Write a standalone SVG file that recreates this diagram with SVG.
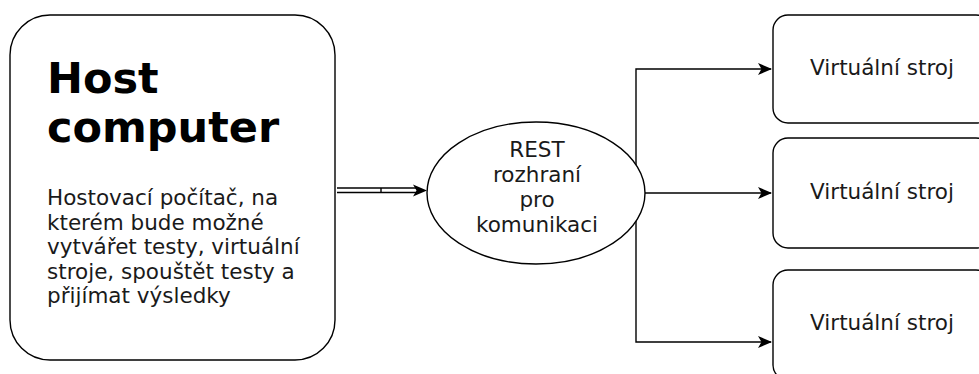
<svg xmlns="http://www.w3.org/2000/svg" width="979" height="374" viewBox="0 0 979 374">
<style>
.shape{fill:#fff;stroke:#000;stroke-width:1.4}
.edge{fill:none;stroke:#000;stroke-width:1.4}
.t{font-family:"DejaVu Sans",sans-serif;font-size:21.5px;fill:#1a1a1a}
.h{font-family:"DejaVu Sans",sans-serif;font-size:43px;font-weight:bold;fill:#000}
.c{text-anchor:middle}
</style>
<defs>
<marker id="arr" viewBox="0 0 14 12" refX="13" refY="6" markerWidth="14" markerHeight="12" markerUnits="userSpaceOnUse" orient="auto">
<path d="M0,0 L14,6 L0,12 L3.5,6 Z" fill="#000"/>
</marker>
</defs>
<g id="connectors">
<line class="edge" x1="337" y1="188" x2="417" y2="188"/>
<line class="edge" x1="337" y1="192.5" x2="417" y2="192.5"/>
<line class="edge" x1="381" y1="188" x2="381" y2="192.5"/>
<path d="M413,184.5 L427,190.5 L413,196.5 L416.5,190.5 Z" fill="#000"/>
<path class="edge" d="M636,193 L771,193" marker-end="url(#arr)"/>
<path class="edge" d="M636,193 L636,69 L771,69" marker-end="url(#arr)"/>
<path class="edge" d="M636,193 L636,342 L771,342" marker-end="url(#arr)"/>
</g>
<g id="host">
<rect class="shape" x="10" y="15" width="325" height="345" rx="40" ry="40"/>
<text class="h" x="47" y="93">Host</text>
<text class="h" x="47" y="142">computer</text>
<text class="t" x="47" y="205">Hostovací počítač, na</text>
<text class="t" x="47" y="229.5">kterém bude možné</text>
<text class="t" x="47" y="254">vytvářet testy, virtuální</text>
<text class="t" x="47" y="278.5">stroje, spouštět testy a</text>
<text class="t" x="47" y="303">přijímat výsledky</text>
</g>
<g id="rest">
<ellipse class="shape" cx="536" cy="193" rx="109" ry="71"/>
<text class="t c" x="537" y="157">REST</text>
<text class="t c" x="537" y="182">rozhraní</text>
<text class="t c" x="537" y="207">pro</text>
<text class="t c" x="537" y="232">komunikaci</text>
</g>
<g id="vm1">
<rect class="shape" x="773" y="15" width="218" height="108" rx="15" ry="15"/>
<text class="t c" x="882" y="75">Virtuální stroj</text>
</g>
<g id="vm2">
<rect class="shape" x="773" y="138" width="218" height="110" rx="15" ry="15"/>
<text class="t c" x="882" y="199">Virtuální stroj</text>
</g>
<g id="vm3">
<rect class="shape" x="773" y="270" width="218" height="110" rx="15" ry="15"/>
<text class="t c" x="882" y="330">Virtuální stroj</text>
</g>
</svg>
